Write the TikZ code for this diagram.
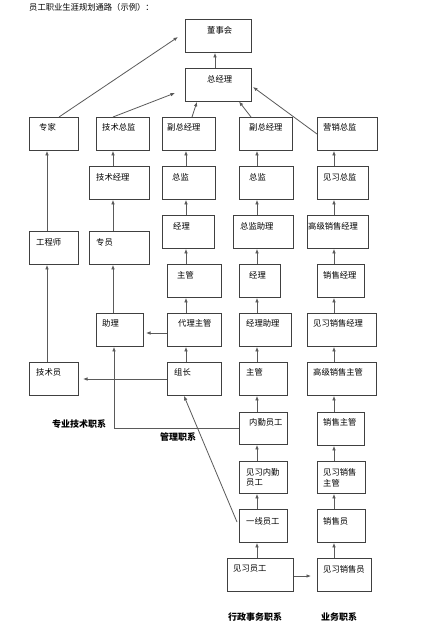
\documentclass[tikz,border=0pt]{standalone}
\usepackage{fontspec}
\newfontfamily\cjk{Noto Sans CJK SC}
\usetikzlibrary{arrows.meta,calc}
\definecolor{boxc}{HTML}{404040}
\definecolor{linec}{HTML}{5A5A5A}
\tikzset{
  box/.style={draw=boxc, line width=0.9pt, anchor=north west, inner sep=0pt},
  lbl/.style={anchor=west, inner sep=0pt, font=\cjk\fontsize{8.3}{11}\selectfont, text=black},
  cat/.style={anchor=west, inner sep=0pt, font=\cjk\bfseries\fontsize{9}{11}\selectfont, text=black},
  arr/.style={draw=linec, line width=0.8pt, -{Latex[length=4.5pt,width=3.6pt]}},
  ln/.style={draw=linec, line width=0.8pt},
}
% \bx{name}{x1}{y1}{x2}{y2}{tx}{ty}{text}
\newcommand\bx[8]{%
  \node[box, minimum width=#4pt-#2pt, minimum height=#5pt-#3pt] (#1) at (#2,#3) {};
  \node[lbl] (#1-t) at (#6,#7) {#8};}
\begin{document}
\begin{tikzpicture}[x=1pt,y=-1pt]
\useasboundingbox[fill=white] (0,0) rectangle (439,629);
\node[lbl] (title) at (29,7) {员工职业生涯规划通路（示例）：};
% boxes
\bx{dsh}{185}{19}{251}{52}{207}{30}{董事会}
\bx{zjl}{185}{68}{251}{101}{207}{79}{总经理}
\bx{zj}{29}{117}{78}{150}{39}{127}{专家}
\bx{jszj}{96}{117}{149}{150}{102}{127}{技术总监}
\bx{fz1}{162}{117}{215}{150}{167}{127}{副总经理}
\bx{fz2}{239}{117}{292}{150}{249}{127}{副总经理}
\bx{yxzj}{317}{117}{377}{150}{323}{127}{营销总监}
\bx{jsjl}{89}{166}{149}{199}{96}{177}{技术经理}
\bx{zjian1}{162}{166}{215}{199}{172}{177}{总监}
\bx{zjian2}{239}{166}{293}{199}{249}{177}{总监}
\bx{jxzj}{317}{166}{368}{199}{323}{177}{见习总监}
\bx{jl1}{162}{215}{214}{248}{173}{226}{经理}
\bx{zjzl}{233}{215}{293}{248}{240}{226}{总监助理}
\bx{gjxsjl}{307}{215}{368}{248}{308}{226}{高级销售经理}
\bx{gcs}{29}{231}{78}{264}{36}{242}{工程师}
\bx{zy}{89}{231}{149}{264}{96}{242}{专员}
\bx{zg1}{167}{264}{221}{297}{177}{275}{主管}
\bx{jl2}{239}{264}{280}{297}{249}{275}{经理}
\bx{xsjl}{317}{264}{364}{297}{323}{275}{销售经理}
\bx{zl}{96}{313}{143}{346}{102}{323}{助理}
\bx{dlzg}{167}{313}{221}{346}{178}{323}{代理主管}
\bx{jlzl}{239}{313}{291}{346}{246}{323}{经理助理}
\bx{jxxsjl}{307}{313}{376}{346}{313}{323}{见习销售经理}
\bx{jsy}{29}{362}{78}{395}{36}{372}{技术员}
\bx{zuz}{167}{362}{221}{395}{174}{372}{组长}
\bx{zg2}{239}{362}{287}{395}{246}{372}{主管}
\bx{gjxszg}{307}{362}{376}{395}{313}{372}{高级销售主管}
\bx{nq}{239}{412}{287}{444}{249}{422}{内勤员工}
\bx{xszg}{317}{412}{364}{445}{323}{422}{销售主管}
\bx{jxnq}{239}{461}{287}{493}{246}{472}{见习内勤}
\node[lbl] (jxnq-t2) at (246,483) {员工};
\bx{jxxszg}{317}{461}{365}{493}{323}{472}{见习销售}
\node[lbl] (jxxszg-t2) at (323,483) {主管};
\bx{yx}{239}{509}{287}{542}{246}{521}{一线员工}
\bx{xsy}{317}{509}{365}{542}{323}{521}{销售员}
\bx{jxyg}{227}{558}{293}{591}{233}{569}{见习员工}
\bx{jxxsy}{317}{558}{371}{591}{323}{569}{见习销售员}
% category labels
\node[cat] (c1) at (52,424) {专业技术职系};
\node[cat] (c2) at (160,437) {管理职系};
\node[cat] (c3) at (228,617) {行政事务职系};
\node[cat] (c4) at (321,617) {业务职系};
% column coordinates
\coordinate (k1) at (47,0);
\coordinate (k2) at (113,0);
\coordinate (k3) at (186,0);
\coordinate (k4) at (257,0);
\coordinate (k5) at (334,0);
% free ends
\coordinate (e1) at (178,37);
\coordinate (e2) at (175,93);
\coordinate (e3) at (239,101.5);
\coordinate (e4) at (253,87);
\coordinate (e5) at (146,333);
\coordinate (e6) at (83,379);
\coordinate (e7) at (311,576);
\coordinate (s1) at (59,117);
\coordinate (s2) at (113,117);
\coordinate (s3) at (192,117);
\coordinate (s4) at (251,117);
\coordinate (s5) at (317,134);
\coordinate (s6) at (237,522);
\coordinate (b1) at (114,428);
% top connectors
\draw[arr] (zjl.north -| 215,0) -- (dsh.south -| 215,0);
\draw[arr] (s1) -- (e1);
\draw[arr] (s2) -- (e2);
\draw[arr] (s3) -- (zjl.south -| 197,0);
\draw[arr] (s4) -- (e3);
\draw[arr] (s5) -- (e4);
% column 1
\draw[arr] (gcs.north -| k1) -- (zj.south -| k1);
\draw[arr] (jsy.north -| k1) -- (gcs.south -| k1);
% column 2
\draw[arr] (jsjl.north -| k2) -- (jszj.south -| k2);
\draw[arr] (zy.north -| k2) -- (jsjl.south -| k2);
\draw[arr] (zl.north -| k2) -- (zy.south -| k2);
% column 3
\draw[arr] (zjian1.north -| k3) -- (fz1.south -| k3);
\draw[arr] (jl1.north -| k3) -- (zjian1.south -| k3);
\draw[arr] (zg1.north -| k3) -- (jl1.south -| k3);
\draw[arr] (dlzg.north -| k3) -- (zg1.south -| k3);
\draw[arr] (zuz.north -| k3) -- (dlzg.south -| k3);
% column 4
\draw[arr] (zjian2.north -| k4) -- (fz2.south -| k4);
\draw[arr] (zjzl.north -| k4) -- (zjian2.south -| k4);
\draw[arr] (jl2.north -| k4) -- (zjzl.south -| k4);
\draw[arr] (jlzl.north -| k4) -- (jl2.south -| k4);
\draw[arr] (zg2.north -| k4) -- (jlzl.south -| k4);
\draw[arr] (nq.north -| k4) -- (zg2.south -| k4);
\draw[arr] (jxnq.north -| k4) -- (nq.south -| k4);
\draw[arr] (yx.north -| k4) -- (jxnq.south -| k4);
\draw[arr] (jxyg.north -| k4) -- (yx.south -| k4);
% column 5
\draw[arr] (jxzj.north -| k5) -- (yxzj.south -| k5);
\draw[arr] (gjxsjl.north -| k5) -- (jxzj.south -| k5);
\draw[arr] (xsjl.north -| k5) -- (gjxsjl.south -| k5);
\draw[arr] (jxxsjl.north -| k5) -- (xsjl.south -| k5);
\draw[arr] (gjxszg.north -| k5) -- (jxxsjl.south -| k5);
\draw[arr] (xszg.north -| k5) -- (gjxszg.south -| k5);
\draw[arr] (jxxszg.north -| k5) -- (xszg.south -| k5);
\draw[arr] (xsy.north -| k5) -- (jxxszg.south -| k5);
\draw[arr] (jxxsy.north -| k5) -- (xsy.south -| k5);
% horizontal & cross connectors
\draw[arr] (dlzg.west |- e5) -- (e5);
\draw[arr] (zuz.west |- e6) -- (e6);
\draw[arr] (nq.west |- b1) -- (b1) -- (zl.south -| b1);
\draw[arr] (s6) -- (zuz.south -| 184,0);
\draw[arr] (jxyg.east |- e7) -- (e7);
\end{tikzpicture}
\end{document}
